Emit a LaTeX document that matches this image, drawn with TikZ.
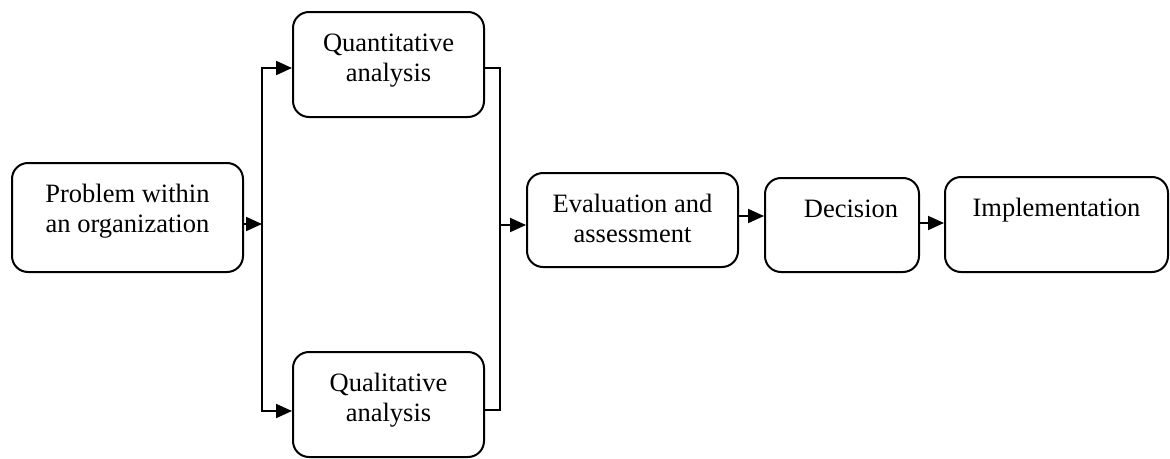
\documentclass[tikz,border=0pt]{standalone}
\usepackage{fontspec}
\setmainfont{Liberation Serif}
\usetikzlibrary{arrows.meta}

% box text: fixed-size parbox, lines centred and hung from the top
\newcommand\toptext[3]{\parbox[c][#2][t]{#1}{\centering\vspace*{18pt}\strut#3}}

\tikzset{
  stepbox/.style={draw, line width=2pt, rounded corners=16pt, inner sep=0pt,
                  font=\fontsize{26.5}{30}\selectfont},
  link/.style={line width=2pt, line cap=rect},
  flow/.style={link, -{Triangle[length=16pt,width=14pt]}}
}

\begin{document}
\begin{tikzpicture}[x=1pt, y=-1pt]
\useasboundingbox (0,0) rectangle (1170,458);

% process steps
\node[stepbox] (prob)  at (127.5,217.5) {\toptext{231pt}{109pt}{Problem within\\an organization}};
\node[stepbox] (quant) at (388.5,64.5)  {\toptext{191pt}{105pt}{Quantitative\\analysis}};
\node[stepbox] (qual)  at (388.5,404.5) {\toptext{191pt}{105pt}{Qualitative\\analysis}};
\node[stepbox] (eval)  at (632.5,220)   {\toptext{211pt}{94pt}{Evaluation and\\assessment}};
\node[stepbox] (dec)   at (842,225)     {\toptext{154pt}{94pt}{\hspace*{18pt}Decision}};
\node[stepbox] (impl)  at (1056.5,224.5){\toptext{223pt}{95pt}{Implementation}};

% branch and join points
\coordinate (split)    at (262,224);
\coordinate (splitTop) at (262,68);
\coordinate (splitBot) at (262,411);
\coordinate (joinTop)  at (500,68);
\coordinate (joinBot)  at (500,410);
\coordinate (joinMid)  at (500,225);
\coordinate (evalOut)  at (0,216);
\coordinate (decOut)   at (0,223);

% split into the two analyses
\draw[flow] (prob.east |- split) -- (split);
\draw[flow] (splitBot) -- (splitTop) -- (quant.west |- splitTop);
\draw[flow] (splitBot) -- (qual.west |- splitBot);

% join of the two analyses
\draw[link] (quant.east |- joinTop) -- (joinTop) -- (joinBot) -- (qual.east |- joinBot);
\draw[flow] (joinMid) -- (eval.west |- joinMid);

% remaining chain
\draw[flow] (eval.east |- evalOut) -- (dec.west |- evalOut);
\draw[flow] (dec.east |- decOut) -- (impl.west |- decOut);
\end{tikzpicture}
\end{document}
